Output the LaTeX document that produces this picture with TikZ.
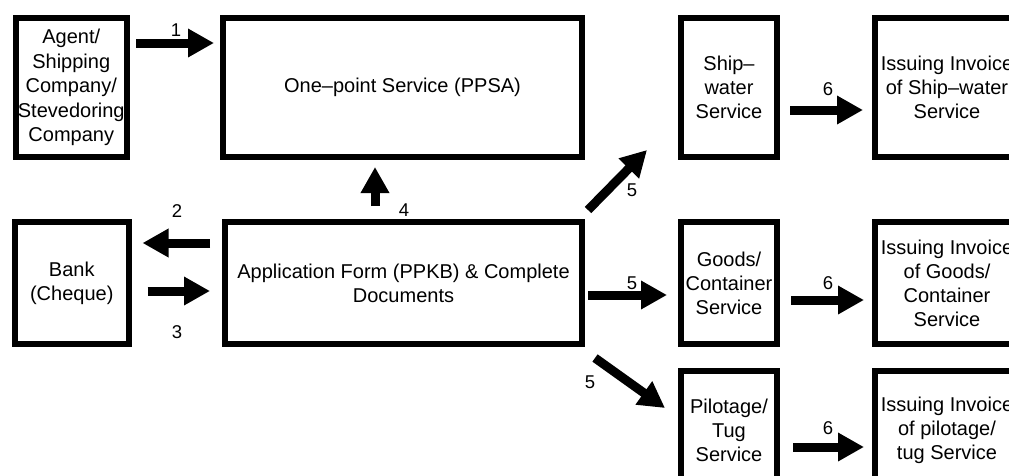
\documentclass[tikz,border=0pt]{standalone}
\usepackage{fontspec}
\setmainfont{Liberation Sans}
\usetikzlibrary{arrows.meta}

\tikzset{
  procbox/.style={draw, line width=6pt, inner sep=0pt, align=center,
    font=\fontsize{20}{24}\selectfont},
  flow/.style={line width=9pt,
    -{Triangle[length=26pt,width=27pt]}},
  steplabel/.style={font=\fontsize{18.5}{20}\selectfont, inner sep=0pt}
}

\begin{document}
\begin{tikzpicture}[x=1pt, y=-1pt]
  \useasboundingbox (0,0) rectangle (1009,475);
  \clip (0,0) rectangle (1009,475);

  % top row
  \node[procbox, minimum width=111.5pt, minimum height=139pt,
        font=\fontsize{20}{24.5}\selectfont] (agent) at (71.25,87.5)
    {Agent/\\Shipping\\Company/\\Stevedoring\\Company};
  \node[procbox, minimum width=359pt, minimum height=139pt] (ppsa) at (402.5,87.5)
    {One–point Service (PPSA)};
  \node[procbox, minimum width=96pt, minimum height=139pt] (ship) at (729,87.5)
    {Ship–\\water\\Service};
  \node[procbox, minimum width=144pt, minimum height=139pt] (invship) at (947,87.5)
    {Issuing Invoice\\of Ship–water\\Service};

  % middle row
  \node[procbox, minimum width=113.5pt, minimum height=122pt] (bank) at (71.75,283)
    {Bank\\(Cheque)};
  \node[procbox, minimum width=357pt, minimum height=122pt] (form) at (403.5,283)
    {Application Form (PPKB) \& Complete\\Documents};
  \node[procbox, minimum width=96pt, minimum height=122pt] (goods) at (729,283)
    {Goods/\\Container\\Service};
  \node[procbox, minimum width=144pt, minimum height=122pt] (invgoods) at (947,283)
    {Issuing Invoice\\of Goods/\\Container\\Service};

  % bottom row
  \node[procbox, minimum width=96pt, minimum height=118pt] (pilot) at (729,430)
    {Pilotage/\\Tug\\Service};
  \node[procbox, minimum width=144pt, minimum height=118pt] (invpilot) at (947,430)
    {Issuing Invoice\\of pilotage/\\tug Service};

  % arrow end points
  \coordinate (a1s) at ([xshift=6pt]agent.east |- 0,43);
  \coordinate (a1e) at ([xshift=-6pt]ppsa.west |- 0,43);
  \coordinate (a2s) at ([xshift=-12pt]form.west |- 0,243);
  \coordinate (a2e) at ([xshift=11pt]bank.east |- 0,243);
  \coordinate (a3s) at ([xshift=16pt]bank.east |- 0,291);
  \coordinate (a3e) at ([xshift=-12pt]form.west |- 0,291);
  \coordinate (a4s) at (375,206);
  \coordinate (a4e) at (375,167);
  \coordinate (a5as) at (588,210);
  \coordinate (a5ae) at (647,150);
  \coordinate (a5bs) at ([xshift=3pt]form.east |- 0,295);
  \coordinate (a5be) at ([xshift=-11pt]goods.west |- 0,295);
  \coordinate (a5cs) at (595,358);
  \coordinate (a5ce) at (665,408);
  \coordinate (a6as) at ([xshift=10pt]ship.east |- 0,110);
  \coordinate (a6ae) at ([xshift=-9pt]invship.west |- 0,110);
  \coordinate (a6bs) at ([xshift=11pt]goods.east |- 0,300);
  \coordinate (a6be) at ([xshift=-8pt]invgoods.west |- 0,300);
  \coordinate (a6cs) at ([xshift=13pt]pilot.east |- 0,447);
  \coordinate (a6ce) at ([xshift=-8pt]invpilot.west |- 0,447);

  % flow arrows
  \draw[flow] (a1s) -- (a1e);
  \draw[flow] (a2s) -- (a2e);
  \draw[flow] (a3s) -- (a3e);
  \draw[flow] (a4s) -- (a4e);
  \draw[flow] (a5as) -- (a5ae);
  \draw[flow] (a5bs) -- (a5be);
  \draw[flow] (a5cs) -- (a5ce);
  \draw[flow] (a6as) -- (a6ae);
  \draw[flow] (a6bs) -- (a6be);
  \draw[flow] (a6cs) -- (a6ce);

  % step numbers
  \node[steplabel] (n1) at (176,30) {1};
  \node[steplabel] (n2) at (177,211) {2};
  \node[steplabel] (n3) at (177,332) {3};
  \node[steplabel] (n4) at (404,210) {4};
  \node[steplabel] (n5a) at (632,190) {5};
  \node[steplabel] (n5b) at (632,283) {5};
  \node[steplabel] (n5c) at (590,382) {5};
  \node[steplabel] (n6a) at (828,89) {6};
  \node[steplabel] (n6b) at (828,283) {6};
  \node[steplabel] (n6c) at (828,428) {6};
\end{tikzpicture}
\end{document}
